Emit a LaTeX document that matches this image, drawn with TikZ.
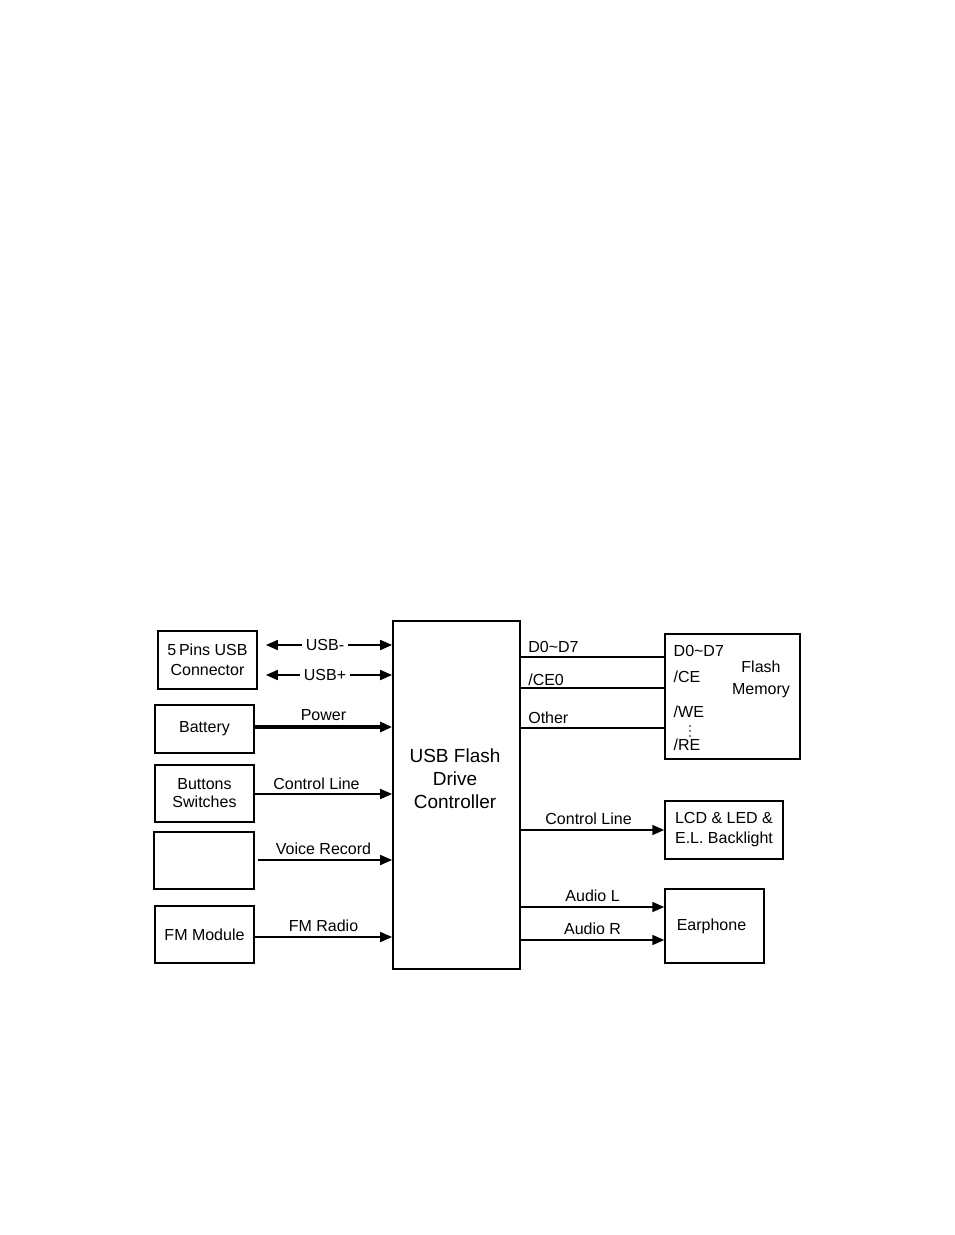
\documentclass[tikz,border=0pt]{standalone}
\usepackage{fontspec}
\setmainfont{Liberation Sans}
\usetikzlibrary{arrows.meta, positioning}
\begin{document}
\begin{tikzpicture}[x=1pt, y=-1pt, font=\fontsize{16}{20}\selectfont, line join=miter, >={Triangle[length=12pt,width=10pt]},
	blk/.style={draw, line width=1.8pt, inner sep=0pt, align=center},
	sig/.style={line width=1.8pt},
	lbl/.style={inner sep=1.5pt}]
	\useasboundingbox (0,0) rectangle (954,1235);
	% left side blocks
	\node[blk, minimum width=99, minimum height=58] (usbc) at (207.5,660) {5\,Pins USB\\Connector};
	\node[blk, minimum width=99, minimum height=48] (batt) at (204.5,729) {Battery};
	\node[blk, minimum width=99, minimum height=57, font=\fontsize{16}{18}\selectfont] (btn) at (204.5,793.5) {Buttons\\Switches};
	\node[blk, minimum width=100, minimum height=57] (voice) at (204,860.5) {};
	\node[blk, minimum width=99, minimum height=57] (fm) at (204.5,934.5) {FM Module};
	% controller
	\node[blk, minimum width=127, minimum height=348] (ctrl) at (456.5,795) {};
	\node[align=center, font=\fontsize{19}{23}\selectfont] (ctrltxt) at (455,779) {USB Flash\\Drive\\Controller};
	% right side blocks
	\node[draw, line width=1.5pt, minimum width=135, minimum height=125] (flash) at (732.5,696.5) {};
	\node[align=center, font=\fontsize{16}{22}\selectfont] (flashtxt) at (761,679) {Flash\\Memory};
	\node[lbl, anchor=west] (pd) at (672,651) {D0\textasciitilde D7};
	\node[lbl, anchor=west] (pce) at (672,677) {/CE};
	\node[lbl, anchor=west] (pwe) at (672,712) {/WE};
	\node[lbl, anchor=west] (pre) at (672,745) {/RE};
	\foreach \y in {726,731,736} \fill (690,\y) circle (0.9);
	\node[blk, line width=1.5pt, minimum width=118, minimum height=58] (lcd) at (724,830) {LCD \& LED \&\\E.L. Backlight};
	\node[blk, line width=1.5pt, minimum width=99, minimum height=74] (ear) at (714.5,926) {Earphone\hspace*{6pt}};
	% usb lines
	\draw[sig, <->, shorten <=8pt] (usbc.east |- 0,645) -- (ctrl.west |- 0,645) node[midway, fill=white, inner sep=4pt] {USB-};
	\draw[sig, <->, shorten <=8pt] (usbc.east |- 0,675) -- (ctrl.west |- 0,675) node[midway, fill=white, inner sep=4pt] {USB+};
	% inputs
	\draw[line width=4pt, ->] (batt.east |- 0,727) -- (ctrl.west |- 0,727) node[lbl, midway, above=3pt] {Power};
	\draw[sig, ->] (btn.east |- 0,794) -- (ctrl.west |- 0,794) node[lbl, midway, above=2pt, xshift=-7pt] {Control Line};
	\draw[sig, ->, shorten <=3pt] (voice.east |- 0,860) -- (ctrl.west |- 0,860) node[lbl, midway, above=3pt] {Voice Record};
	\draw[sig, ->] (fm.east |- 0,937) -- (ctrl.west |- 0,937) node[lbl, midway, above=3pt] {FM Radio};
	% flash bus
	\draw[sig] (ctrl.east |- 0,657) -- (flash.west |- 0,657) node[lbl, pos=0, above right=2pt and 5pt] {D0\textasciitilde D7};
	\draw[sig] (ctrl.east |- 0,688) -- (flash.west |- 0,688) node[lbl, pos=0, above right=0pt and 5pt] {/CE0};
	\draw[sig] (ctrl.east |- 0,728) -- (flash.west |- 0,728) node[lbl, pos=0, above right=2pt and 5pt] {Other};
	% outputs
	\draw[sig, ->] (ctrl.east |- lcd.west) -- (lcd.west) node[lbl, midway, above=3pt, xshift=-4pt] {Control Line};
	\draw[sig, ->] (ctrl.east |- 0,907) -- (ear.west |- 0,907) node[lbl, midway, above=3pt] {Audio L};
	\draw[sig, ->] (ctrl.east |- 0,940) -- (ear.west |- 0,940) node[lbl, midway, above=3pt] {Audio R};
\end{tikzpicture}
\end{document}
